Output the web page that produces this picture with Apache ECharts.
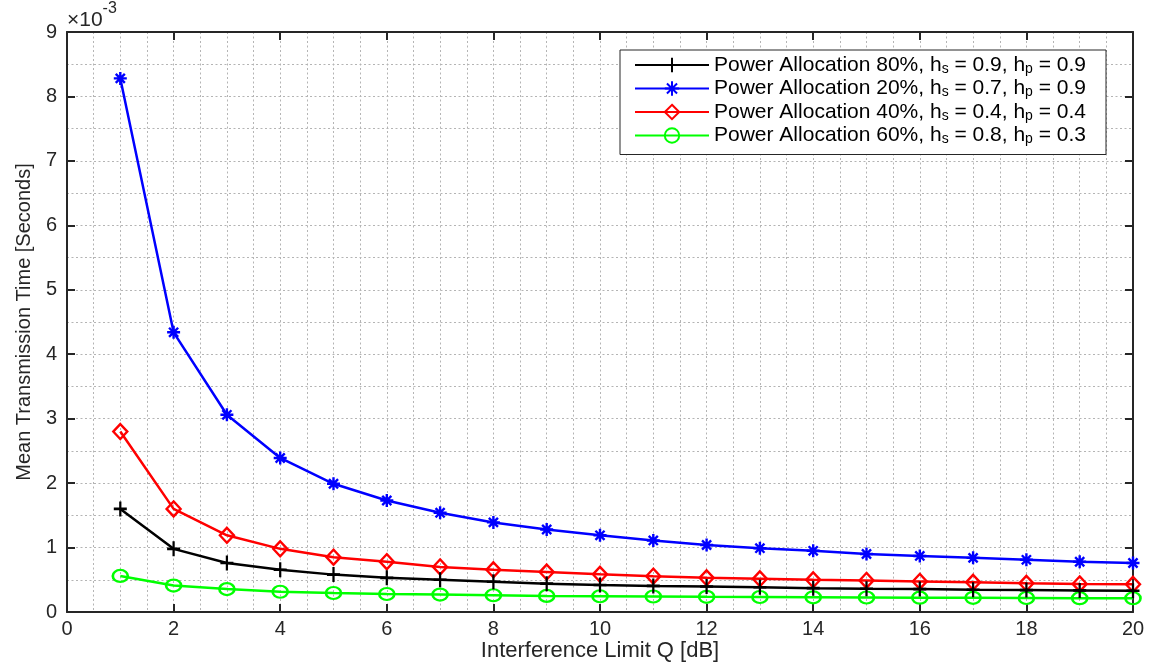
<!DOCTYPE html>
<html>
<head>
<meta charset="utf-8">
<title>Mean Transmission Time vs Interference Limit</title>
<script src="https://cdn.jsdelivr.net/npm/echarts@6/dist/echarts.min.js"></script>
<style>
  html, body { margin: 0; padding: 0; background: #fff; }
  #chart { width: 1151px; height: 664px; }
</style>
</head>
<body>
<div id="chart"></div>
<script>
// Interference limit Q [dB]
const qValues = [1, 2, 3, 4, 5, 6, 7, 8, 9, 10, 11, 12, 13, 14, 15, 16, 17, 18, 19, 20];

// Mean transmission time, in units of 1e-3 seconds
const timeAlloc80 = [1.60, 0.98, 0.76, 0.655, 0.58, 0.53, 0.50, 0.47, 0.44, 0.42, 0.405, 0.395, 0.385, 0.37, 0.36, 0.355, 0.345, 0.34, 0.335, 0.33];
const timeAlloc20 = [8.28, 4.34, 3.06, 2.39, 1.99, 1.73, 1.54, 1.39, 1.28, 1.19, 1.11, 1.04, 0.99, 0.95, 0.90, 0.87, 0.84, 0.81, 0.78, 0.76];
const timeAlloc40 = [2.80, 1.60, 1.19, 0.98, 0.85, 0.78, 0.70, 0.655, 0.62, 0.585, 0.555, 0.53, 0.515, 0.50, 0.49, 0.475, 0.46, 0.445, 0.435, 0.43];
const timeAlloc60 = [0.56, 0.41, 0.355, 0.315, 0.295, 0.28, 0.27, 0.26, 0.25, 0.245, 0.24, 0.235, 0.232, 0.228, 0.225, 0.222, 0.22, 0.218, 0.215, 0.213];

// Legend parameters: allocation percentage, h_s, h_p
const allocations = ['80', '20', '40', '60'];
const hsValues = ['0.9', '0.7', '0.4', '0.8'];
const hpValues = ['0.9', '0.9', '0.4', '0.3'];

// Axis ticks
const xTicks = { min: 0, max: 20, interval: 2 };
const yTicks = { min: 0, max: 9, interval: 1 };
const yExponent = '-3';

const seriesNames = allocations.map((a, i) =>
  'Power Allocation ' + a + '%, hs = ' + hsValues[i] + ', hp = ' + hpValues[i]);

const seriesData = [timeAlloc80, timeAlloc20, timeAlloc40, timeAlloc60];
const colors = ['#000000', '#0000ff', '#ff0000', '#00ff00'];

// Marker outlines: plus, asterisk, hollow diamond, hollow circle
const plusPath = 'path://M5,0L5,10M0,5L10,5';
const starPath = 'path://M5,0L5,10M0,5L10,5M1.5,1.5L8.5,8.5M8.5,1.5L1.5,8.5';
const diamondPath = 'path://M5,0L10,5L5,10L0,5Z';
const circlePath = 'path://M10,5A5,5,0,1,1,0,5A5,5,0,1,1,10,5Z';
const symbols = [plusPath, starPath, diamondPath, circlePath];
const symbolSizes = [[13, 15], [13, 13], [14, 15], [15, 12]];

const axisColor = '#262626';
const gridLine = { show: true, lineStyle: { color: '#b4b4b4', type: [2, 2.5], width: 1 } };
const fontFamily = '"Liberation Sans", Arial, Helvetica, sans-serif';

const chart = echarts.init(document.getElementById('chart'), null, { renderer: 'canvas' });

const series = seriesData.map((vals, i) => ({
  name: seriesNames[i],
  type: 'line',
  xAxisIndex: 0,
  yAxisIndex: 0,
  data: qValues.map((q, k) => [q, vals[k]]),
  color: colors[i],
  symbol: symbols[i],
  symbolSize: symbolSizes[i],
  showAllSymbol: true,
  lineStyle: { color: colors[i], width: 2.5 },
  itemStyle: {
    color: 'rgba(0,0,0,0)',
    borderColor: colors[i],
    borderWidth: 2.4
  },
  emphasis: { disabled: true },
  animation: false,
  z: 3 + (3 - i)
}));

function boxAxis(base, position) {
  return Object.assign({}, base, {
    position: position,
    axisLine: { show: true, onZero: false, lineStyle: { color: axisColor, width: 2 } },
    axisTick: { show: true, inside: true, length: 8, lineStyle: { color: axisColor, width: 2 } },
    axisLabel: { show: false },
    splitLine: { show: false }
  });
}

const option = {
  animation: false,
  backgroundColor: '#ffffff',
  textStyle: { fontFamily: fontFamily },
  title: {
    text: '{a|\u00d710}{b|' + yExponent + '}',
    left: 67,
    top: 1,
    padding: 0,
    textStyle: {
      rich: {
        a: { fontSize: 21, fontWeight: 'normal', color: axisColor, fontFamily: fontFamily, lineHeight: 30, verticalAlign: 'bottom' },
        b: { fontSize: 16, fontWeight: 'normal', color: axisColor, fontFamily: fontFamily, lineHeight: 20, verticalAlign: 'top' }
      }
    }
  },
  grid: { left: 67, right: 18, top: 32, bottom: 52, containLabel: false, outerBoundsMode: 'none' },
  legend: {
    orient: 'vertical',
    left: 620,
    top: 50,
    padding: [4, 20, 8, 14],
    itemWidth: 74,
    itemHeight: 18,
    itemGap: 1.5,
    backgroundColor: '#ffffff',
    borderColor: '#262626',
    borderWidth: 1,
    data: seriesNames,
    formatter: function (name) {
      const i = seriesNames.indexOf(name);
      return 'Power Allocation ' + allocations[i] + '%, h{sub|s} = ' + hsValues[i] +
             ', h{sub|p} = ' + hpValues[i];
    },
    textStyle: {
      fontFamily: fontFamily,
      fontSize: 21,
      color: '#000000',
      lineHeight: 22,
      rich: {
        sub: { fontSize: 14, fontFamily: fontFamily, color: '#000000', lineHeight: 12, verticalAlign: 'bottom' }
      }
    }
  },
  xAxis: [
    {
      type: 'value',
      min: xTicks.min, max: xTicks.max, interval: xTicks.interval,
      position: 'bottom',
      name: 'Interference Limit Q [dB]',
      nameLocation: 'middle',
      nameGap: 28,
      nameMoveOverlap: false,
      nameTextStyle: { fontSize: 22, color: axisColor, fontFamily: fontFamily },
      axisLine: { show: true, onZero: false, lineStyle: { color: axisColor, width: 2 } },
      axisTick: { show: true, inside: true, length: 8, lineStyle: { color: axisColor, width: 2 } },
      axisLabel: { show: true, fontSize: 20, color: axisColor, margin: 7, fontFamily: fontFamily },
      splitLine: gridLine,
      minorTick: { show: false, splitNumber: 4 },
      minorSplitLine: gridLine
    },
    boxAxis({ type: 'value', min: xTicks.min, max: xTicks.max, interval: xTicks.interval }, 'top')
  ],
  yAxis: [
    {
      type: 'value',
      min: yTicks.min, max: yTicks.max, interval: yTicks.interval,
      position: 'left',
      name: 'Mean Transmission Time [Seconds]',
      nameLocation: 'middle',
      nameGap: 33,
      nameMoveOverlap: false,
      nameTextStyle: { fontSize: 20, color: axisColor, fontFamily: fontFamily },
      axisLine: { show: true, onZero: false, lineStyle: { color: axisColor, width: 2 } },
      axisTick: { show: true, inside: true, length: 8, lineStyle: { color: axisColor, width: 2 } },
      axisLabel: { show: true, fontSize: 20, color: axisColor, margin: 10, fontFamily: fontFamily },
      splitLine: gridLine,
      minorTick: { show: false, splitNumber: 2 },
      minorSplitLine: gridLine
    },
    boxAxis({ type: 'value', min: yTicks.min, max: yTicks.max, interval: yTicks.interval }, 'right')
  ],
  series: series
};

chart.setOption(option);
</script>
</body>
</html>
